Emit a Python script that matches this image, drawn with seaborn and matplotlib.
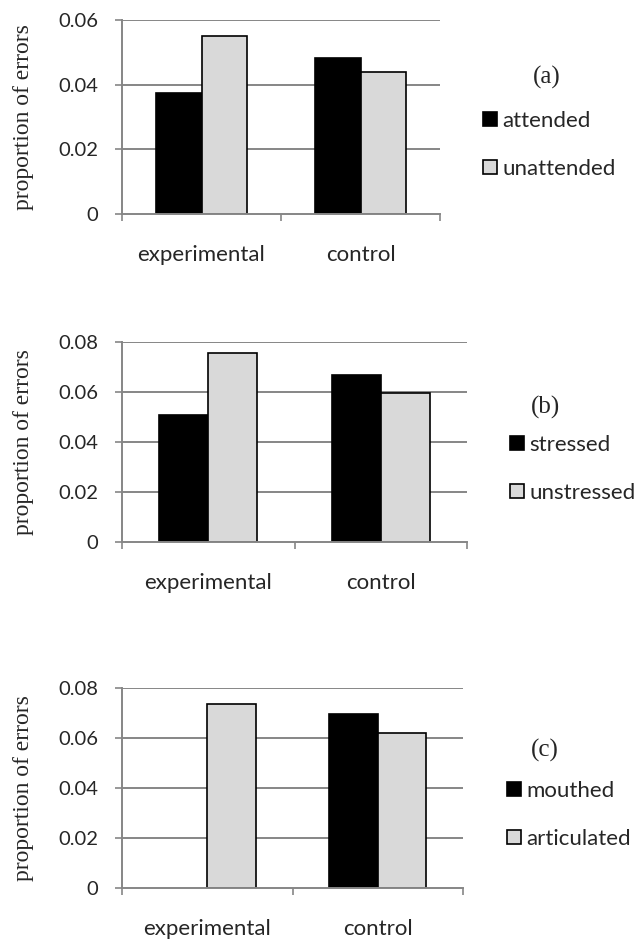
import numpy as np
import pandas as pd
import matplotlib
matplotlib.use("Agg")
import matplotlib.pyplot as plt
import matplotlib.transforms as mtransforms
import seaborn as sns

# values
groups = ["experimental", "control"]
attended = [0.0373, 0.0482]
unattended = [0.0551, 0.0440]
stressed = [0.0510, 0.0670]
unstressed = [0.0756, 0.0595]
mouthed = [np.nan, 0.0697]  # no bar drawn for experimental
articulated = [0.0737, 0.0622]

y_ticks_a = [0, 0.02, 0.04, 0.06]
y_ticks_bc = [0, 0.02, 0.04, 0.06, 0.08]
tick_labels_a = ["0", "0.02", "0.04", "0.06"]
tick_labels_bc = ["0", "0.02", "0.04", "0.06", "0.08"]

sns.set_theme(style="white")
plt.rcParams["font.family"] = ["Lato", "DejaVu Sans"]

W, H = 644, 939
GRID = "#868686"
LIGHT = "#d9d9d9"


def long_table(first_name, first, second_name, second):
    """Long-format table for one panel."""
    return pd.DataFrame({
        "group": groups * 2,
        "condition": [first_name] * 2 + [second_name] * 2,
        "value": list(first) + list(second),
    })


def draw_panel(fig, box, df, names, ticks, labels, tag, tag_xy, legend_xy):
    left, top, right, bottom = box
    ax = fig.add_axes([left / W, 1 - bottom / H, (right - left) / W, (bottom - top) / H])
    # gridlines behind the bars
    for t in ticks[1:]:
        ax.axhline(t, color=GRID, lw=1.4, zorder=0)
    sns.barplot(data=df, x="group", y="value", hue="condition", hue_order=names,
                palette={names[0]: "black", names[1]: LIGHT}, width=0.57,
                edgecolor="black", linewidth=1.2, errorbar=None, ax=ax, zorder=2)
    ax.set_xlim(-0.5, 1.5)
    ax.set_ylim(0, ticks[-1])
    ax.set_yticks(ticks)
    ax.set_yticklabels(labels)
    ax.set_xlabel("")
    ax.set_ylabel("proportion of errors", family="Liberation Serif", fontsize=17)
    ax.yaxis.set_label_coords(34 / W, 0.5,
                              transform=mtransforms.blended_transform_factory(fig.transFigure, ax.transAxes))
    for side in ["top", "right"]:
        ax.spines[side].set_visible(False)
    for side in ["left", "bottom"]:
        ax.spines[side].set_color(GRID)
        ax.spines[side].set_linewidth(1.4)
    ax.set_xticks([-0.5, 0.5, 1.5], minor=True)
    ax.tick_params(axis="x", which="minor", length=5, width=1.2, color=GRID, bottom=True)
    ax.tick_params(axis="x", which="major", length=0, pad=22, labelsize=16)
    ax.tick_params(axis="y", length=5, width=1.2, color=GRID, left=True, pad=12, labelsize=14.5)
    sns.move_legend(ax, "center left", bbox_to_anchor=(legend_xy[0] / W, 1 - legend_xy[1] / H),
                    bbox_transform=fig.transFigure, frameon=False, title=None,
                    fontsize=16, borderpad=0, borderaxespad=0, handlelength=0.62,
                    handleheight=0.62, handletextpad=0.25, labelspacing=1.25)
    fig.text(tag_xy[0] / W, 1 - tag_xy[1] / H, tag, family="Liberation Serif",
             fontsize=18, ha="center", va="center")
    return ax


fig = plt.figure(figsize=(W / 100, H / 100), dpi=100)

draw_panel(fig, (122, 20, 440, 214), long_table("attended", attended, "unattended", unattended),
           ["attended", "unattended"], y_ticks_a, tick_labels_a, "(a)", (547, 77), (483, 145))
draw_panel(fig, (122, 342, 467, 542), long_table("stressed", stressed, "unstressed", unstressed),
           ["stressed", "unstressed"], y_ticks_bc, tick_labels_bc, "(b)", (545, 407), (510, 469))
draw_panel(fig, (122, 688, 463, 888), long_table("mouthed", mouthed, "articulated", articulated),
           ["mouthed", "articulated"], y_ticks_bc, tick_labels_bc, "(c)", (545, 750), (507, 815))

fig.savefig("out.png", dpi=100)
